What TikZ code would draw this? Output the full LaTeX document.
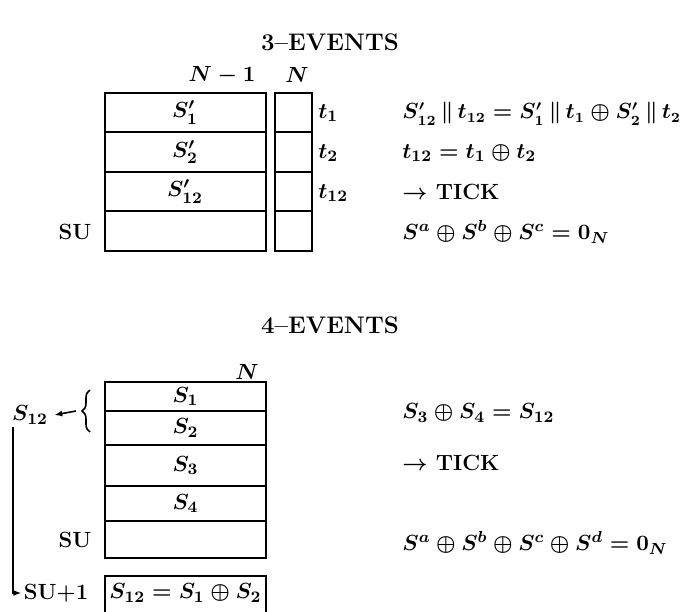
\documentclass[tikz,border=0pt]{standalone}
\usetikzlibrary{arrows.meta,positioning,decorations.pathreplacing}
\begin{document}
\begin{tikzpicture}[
  x=0.5pt, y=-0.5pt,
  font=\fontsize{11}{13}\selectfont\bfseries\boldmath,
  node distance=0pt,
  cell/.style={draw, line width=1pt, outer sep=0pt, inner sep=0pt,
    minimum width=80.5pt, minimum height=19.75pt},
  slot/.style={cell, minimum width=18.5pt},
  eqn/.style={anchor=west, inner sep=0pt},
  tag/.style={inner sep=1pt},
  heading/.style={font=\large\bfseries},
  arrow/.style={-{Latex[length=4pt,width=3pt]}, line width=0.8pt}
]
\useasboundingbox (0,0) rectangle (680,611);

% 3-events
\node[heading] (title3) at (330,42) {3--EVENTS};

\node[cell] (a1) at (185,112.5) {$S'_1$};
\node[cell, below=of a1] (a2) {$S'_2$};
\node[cell, below=of a2] (a3) {$S'_{12}$};
\node[cell, below=of a3] (a4) {};
\node[slot] (b1) at (293.5,112.5) {};
\node[slot, below=of b1] (b2) {};
\node[slot, below=of b2] (b3) {};
\node[slot, below=of b3] (b4) {};

\node (nm1) at (222,75) {$N-1$};
\node (n3) at (297,75) {$N$};
\node[tag, anchor=west] (t1) at (316,113) {$t_1$};
\node[tag, anchor=west] (t2) at (316,153) {$t_2$};
\node[tag, anchor=west] (t12) at (316,193) {$t_{12}$};
\node (su3) at (75,232) {SU};

\node[eqn, font=\fontsize{10.5}{13}\selectfont\bfseries\boldmath] (e1) at (402,114)
  {$S'_{12}\,\|\,t_{12}=S'_1\,\|\,t_1\oplus S'_2\,\|\,t_2$};
\node[eqn] (e2) at (402,153) {$t_{12}=t_1\oplus t_2$};
\node[eqn] (e3) at (402,192) {$\rightarrow$ TICK};
\node[eqn] (e4) at (402,232) {$S^a\oplus S^b\oplus S^c=0_N$};

% 4-events
\node[heading] (title4) at (330,325) {4--EVENTS};

\node[cell, anchor=north, minimum height=14.5pt] (c1) at (185.5,382) {$S_1$};
\node[cell, below=of c1, minimum height=17pt] (c2) {$S_2$};
\node[cell, below=of c2, minimum height=20.5pt] (c3) {$S_3$};
\node[cell, below=of c3, minimum height=17.5pt] (c4) {$S_4$};
\node[cell, below=of c4, minimum height=18.5pt] (c5) {};
\node (n4) at (247,372) {$N$};
\node (su4) at (75,540) {SU};

\node[minimum width=80.5pt, minimum height=17pt, inner sep=0pt] (s12box)
  at (185.5,593) {$S_{12}=S_1\oplus S_2$};
\draw[line width=1pt] ([yshift=-5pt]s12box.south west) -- (s12box.north west)
  -- (s12box.north east) -- ([yshift=-5pt]s12box.south east);

\node[tag] (s12) at (30,415) {$S_{12}$};
\coordinate (brtop) at (90,390);
\coordinate (brbot) at (90,432);
\draw[decorate, decoration={brace, amplitude=4pt}, line width=0.8pt] (brbot) -- (brtop);
\coordinate (brtip) at (76,411);
\draw[arrow] (brtip) -- ([xshift=2pt]s12.east);
\node[tag] (su1) at (56,593) {SU+1};
\draw[arrow] ([xshift=1.5pt]s12.south west) |- (su1);

\node[eqn] (f1) at (402,413) {$S_3\oplus S_4=S_{12}$};
\node[eqn] (f2) at (402,463) {$\rightarrow$ TICK};
\node[eqn] (f3) at (402,543) {$S^a\oplus S^b\oplus S^c\oplus S^d=0_N$};

\end{tikzpicture}
\end{document}
